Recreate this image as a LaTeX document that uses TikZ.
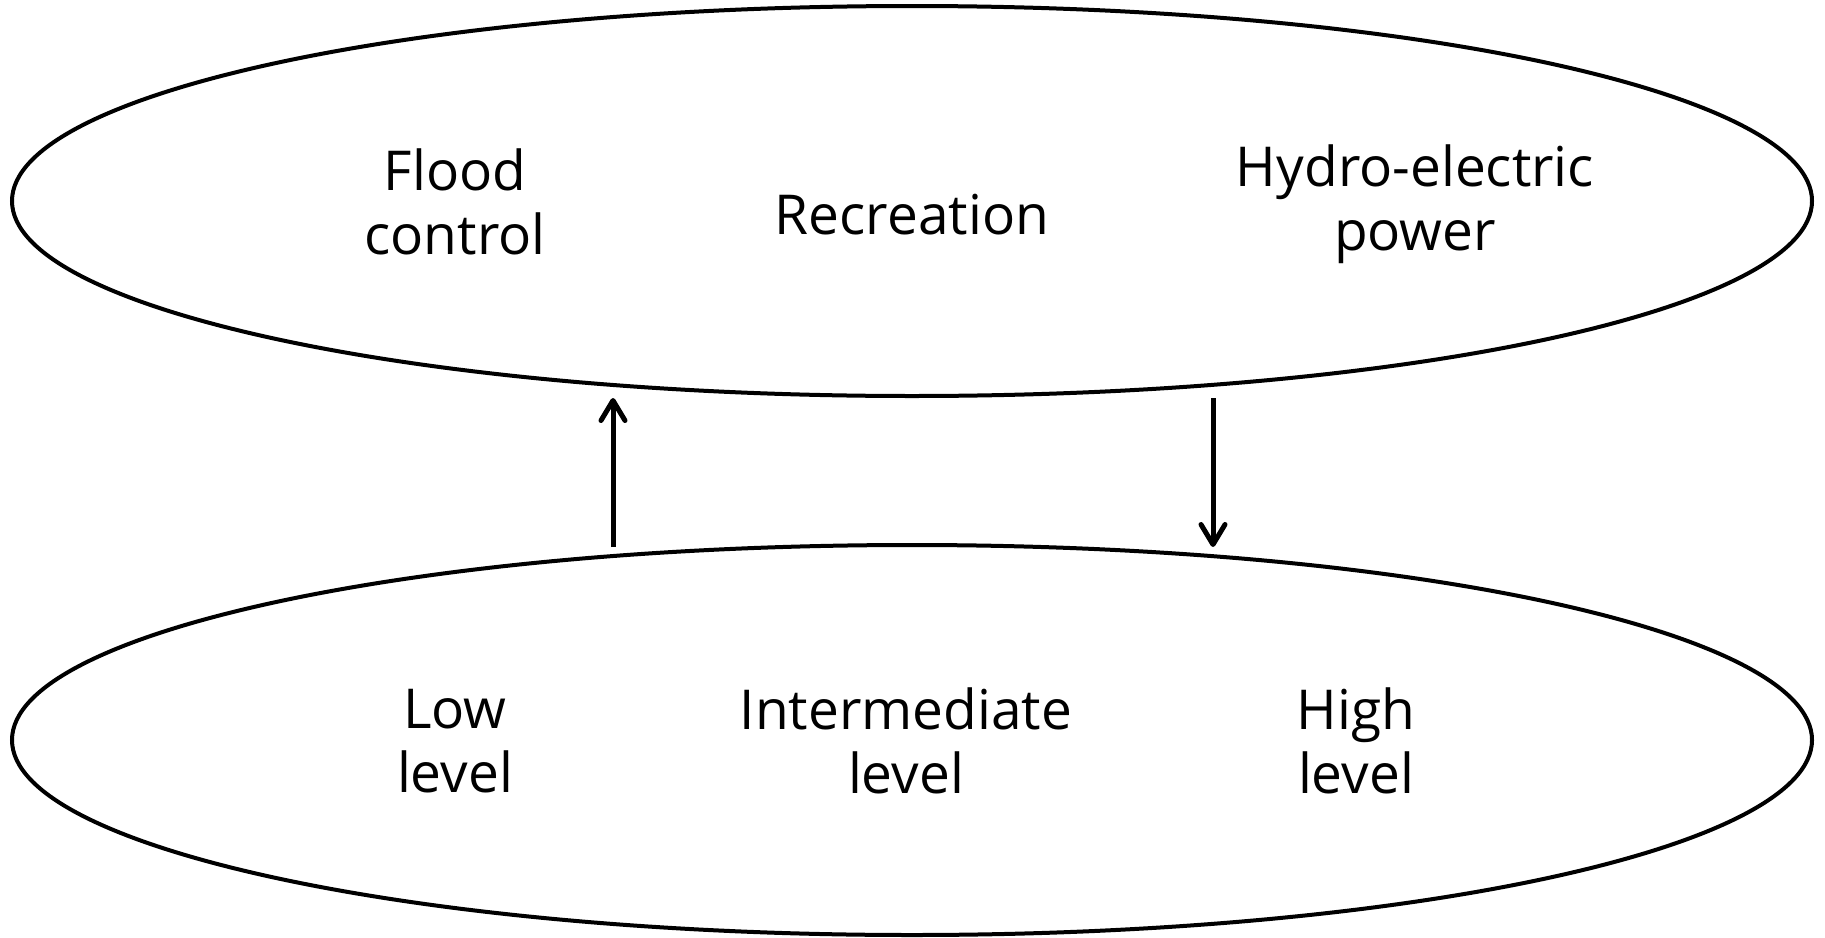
\documentclass[tikz,border=0pt]{standalone}
\usepackage{fontspec}
\setmainfont{Open Sans}
\usetikzlibrary{shapes.geometric,arrows.meta}
\tikzset{
  oval/.style={draw, line width=4pt, ellipse, inner sep=0pt, minimum width=1800pt, minimum height=390pt},
  lbl/.style={align=center, font=\fontsize{55}{64}\selectfont, inner sep=0pt},
  conn/.style={line width=5pt, -{Straight Barb[length=20pt,width=24pt,line cap=round,line join=round]}}
}
\begin{document}
\begin{tikzpicture}[x=1pt,y=-1pt]
\useasboundingbox (0,0) rectangle (1825,937);
\node[oval] (top) at (912,201) {};
\node[oval] (bot) at (912,740) {};
\node[lbl] (flood) at (455,202) {Flood\\control};
\node[lbl] (rec) at (912,215) {Recreation};
\node[lbl] (hydro) at (1415,204) {Hydro-electric\\power};
\node[lbl] (low) at (455,741) {Low\\level};
\node[lbl] (inter) at (906,741) {Intermediate\\level};
\node[lbl] (high) at (1356,741) {High\\level};
\coordinate (upT) at (613,547);
\coordinate (upH) at (613,398);
\coordinate (dnT) at (1213,398);
\coordinate (dnH) at (1213,547);
\draw[conn] (upT) -- (upH);
\draw[conn] (dnT) -- (dnH);
\end{tikzpicture}
\end{document}
